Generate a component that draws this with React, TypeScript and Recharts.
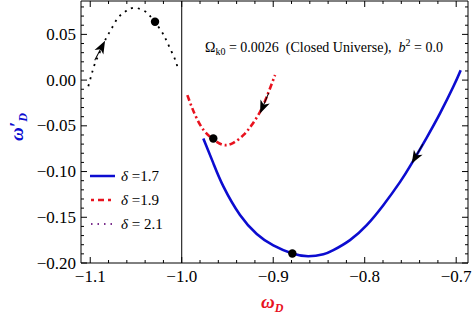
import React from "react";
import {
  ComposedChart,
  Legend,
  Line,
  ReferenceLine,
  Scatter,
  XAxis,
  YAxis,
} from "recharts";

// curves (omega_D, omega'_D)
const blueX = [-0.9764, -0.9655, -0.9545, -0.9363, -0.918, -0.8999, -0.8791, -0.8616, -0.8452, -0.8343, -0.8161, -0.7978, -0.7797, -0.7613, -0.7486, -0.7322, -0.7177, -0.7032, -0.6951];
const blueY = [-0.0638, -0.0908, -0.1162, -0.1475, -0.1682, -0.1808, -0.1896, -0.1926, -0.1905, -0.186, -0.175, -0.1586, -0.1368, -0.1113, -0.0911, -0.0628, -0.0364, -0.0073, 0.0109];

const redX = [-0.9939, -0.9891, -0.9836, -0.9745, -0.9617, -0.9527, -0.9436, -0.9327, -0.9235, -0.9144, -0.9071, -0.898];
const redY = [-0.0164, -0.0292, -0.0419, -0.0566, -0.0675, -0.0711, -0.0686, -0.0602, -0.0492, -0.0347, -0.0183, 0.0055];

const blackX = [-1.1021, -1.0984, -1.0948, -1.0893, -1.0827, -1.0765, -1.0693, -1.062, -1.0573, -1.051, -1.0448, -1.0383, -1.0339, -1.0292, -1.0219, -1.0183, -1.0128, -1.007, -1.0048];
const blackY = [-0.0066, 0.0066, 0.0183, 0.031, 0.0456, 0.0566, 0.0686, 0.0747, 0.0777, 0.0791, 0.0774, 0.0741, 0.0693, 0.0638, 0.0528, 0.0467, 0.0347, 0.0219, 0.0146];

// present-day points
const pointX = [-0.8791, -0.9655, -1.0292];
const pointY = [-0.1896, -0.0638, 0.0638];

// direction arrows (angle in screen degrees)
const arrowX = [-0.7486, -0.9144, -1.0838];
const arrowY = [-0.0911, -0.0364, 0.043];
const arrowAngle = [120, 113, -62];

const legendLabels = ["1.7", "1.9", " 2.1"];

const xMajor = [-1.1, -1.0, -0.9, -0.8, -0.7];
const yMajor = [-0.2, -0.15, -0.1, -0.05, 0.0, 0.05];

const xTicks: number[] = [];
for (let i = 0; i <= 20; i++) xTicks.push(Math.round((-1.1 + i * 0.02) * 1000) / 1000);
const yTicks: number[] = [];
for (let i = 0; i <= 28; i++) yTicks.push(Math.round((-0.2 + i * 0.01) * 1000) / 1000);

const zip = (xs: number[], ys: number[]) => xs.map((x, i) => ({ x, y: ys[i] }));
const blueData = zip(blueX, blueY);
const redData = zip(redX, redY);
const blackData = zip(blackX, blackY);
const pointData = zip(pointX, pointY);
const arrowData = arrowX.map((x, i) => ({ x, y: arrowY[i], a: arrowAngle[i] }));

const SERIF = '"Times New Roman", Times, "Liberation Serif", "DejaVu Serif", serif';
const BLUE = "#0c0cd0";
const RED = "#e8121e";
const PURPLE = "#7a2f8c";

const isMajor = (list: number[], v: number) => list.some((m) => Math.abs(m - v) < 1e-6);
const fmt = (v: number, d: number) => v.toFixed(d).replace("-", "\u2212");

function FrameTick(props: any) {
  const { x, y, payload, side } = props;
  const v = payload.value as number;
  const major = isMajor(side === "bottom" || side === "top" ? xMajor : yMajor, v);
  const len = major ? 6 : 3;
  let line;
  if (side === "bottom") line = <line x1={x} x2={x} y1={y} y2={y - len} stroke="#000" />;
  else if (side === "top") line = <line x1={x} x2={x} y1={y} y2={y + len} stroke="#000" />;
  else if (side === "left") line = <line x1={x} x2={x + len} y1={y} y2={y} stroke="#000" />;
  else line = <line x1={x} x2={x - len} y1={y} y2={y} stroke="#000" />;
  return (
    <g>
      {line}
      {major && side === "bottom" && (
        <text x={x} y={y + 19} textAnchor="middle" style={{ fontFamily: SERIF }} fontSize={17} fill="#000">
          {fmt(v, 1)}
        </text>
      )}
      {major && side === "left" && (
        <text x={x - 5} y={y + 5.5} textAnchor="end" style={{ fontFamily: SERIF }} fontSize={17} fill="#000">
          {fmt(v, 2)}
        </text>
      )}
    </g>
  );
}

function ArrowHead(props: any) {
  const { cx, cy, payload } = props;
  return (
    <g transform={`translate(${cx},${cy}) rotate(${payload.a})`}>
      <line x1={-22} y1={0} x2={-8} y2={0} stroke="#000" strokeWidth={1} />
      <path d="M0,0 L-13,-5 L-9.5,0 L-13,5 Z" fill="#000" />
    </g>
  );
}

function Dot(props: any) {
  const { cx, cy } = props;
  return <circle cx={cx} cy={cy} r={4.2} fill="#000" />;
}

function LegendBox() {
  const samples = [
    <line x1={0} x2={25} y1={5} y2={5} stroke={BLUE} strokeWidth={2.5} />,
    <line x1={1} x2={25} y1={5} y2={5} stroke={RED} strokeWidth={2.5} strokeDasharray="3 4 6 4" />,
    <line x1={1} x2={25} y1={5} y2={5} stroke={PURPLE} strokeWidth={2} strokeDasharray="1.5 5" />,
  ];
  return (
    <div style={{ fontFamily: SERIF, fontSize: 15, lineHeight: "24px" }}>
      {legendLabels.map((l, i) => (
        <div key={i} style={{ display: "flex", alignItems: "center", height: 24 }}>
          <svg width={26} height={10} style={{ marginRight: 5 }}>
            {samples[i]}
          </svg>
          <span>
            <i>{"\u03b4"}</i> ={l}
          </span>
        </div>
      ))}
    </div>
  );
}

export default function App() {
  return (
    <div style={{ position: "absolute", left: 0, top: 0, width: 475, height: 318, background: "#fff" }}>
      <ComposedChart width={475} height={318} margin={{ top: 0, right: 6, bottom: 25, left: 21 }}>
        <XAxis
          xAxisId="b"
          type="number"
          dataKey="x"
          domain={[-1.1101, -0.6871]}
          allowDataOverflow
          ticks={xTicks}
          interval={0}
          height={30}
          tickSize={0}
          tickMargin={0}
          tickLine={false}
          axisLine={{ stroke: "#000" }}
          tick={(p: any) => <FrameTick {...p} side="bottom" />}
        />
        <XAxis
          xAxisId="t"
          orientation="top"
          type="number"
          dataKey="x"
          domain={[-1.1101, -0.6871]}
          allowDataOverflow
          ticks={xTicks}
          interval={0}
          height={1}
          tickSize={0}
          tickMargin={0}
          tickLine={false}
          axisLine={{ stroke: "#000" }}
          tick={(p: any) => <FrameTick {...p} side="top" />}
        />
        <YAxis
          yAxisId="l"
          type="number"
          dataKey="y"
          domain={[-0.2, 0.0865]}
          allowDataOverflow
          ticks={yTicks}
          interval={0}
          width={60}
          tickSize={0}
          tickMargin={0}
          tickLine={false}
          axisLine={{ stroke: "#000" }}
          tick={(p: any) => <FrameTick {...p} side="left" />}
        />
        <YAxis
          yAxisId="r"
          orientation="right"
          type="number"
          dataKey="y"
          domain={[-0.2, 0.0865]}
          allowDataOverflow
          ticks={yTicks}
          interval={0}
          width={1}
          tickSize={0}
          tickMargin={0}
          tickLine={false}
          axisLine={{ stroke: "#000" }}
          tick={(p: any) => <FrameTick {...p} side="right" />}
        />
        <ReferenceLine xAxisId="b" yAxisId="l" x={-1.0} stroke="#000" strokeWidth={1} />
        <Line
          xAxisId="b"
          yAxisId="l"
          data={blueData}
          dataKey="y"
          type="natural"
          stroke={BLUE}
          strokeWidth={2.6}
          dot={false}
          isAnimationActive={false}
        />
        <Line
          xAxisId="b"
          yAxisId="l"
          data={redData}
          dataKey="y"
          type="natural"
          stroke={RED}
          strokeWidth={2.6}
          strokeDasharray="6 3 2 3"
          dot={false}
          isAnimationActive={false}
        />
        <Line
          xAxisId="b"
          yAxisId="l"
          data={blackData}
          dataKey="y"
          type="natural"
          stroke="#000"
          strokeWidth={1.8}
          strokeDasharray="2 5"
          dot={false}
          isAnimationActive={false}
        />
        <Scatter xAxisId="b" yAxisId="l" data={pointData} dataKey="y" shape={<Dot />} isAnimationActive={false} />
        <Scatter xAxisId="b" yAxisId="l" data={arrowData} dataKey="y" shape={<ArrowHead />} isAnimationActive={false} />
        <Legend
          layout="vertical"
          align="center"
          verticalAlign="middle"
          content={() => <LegendBox />}
          wrapperStyle={{ left: 90, top: 164, width: 100, height: 75 }}
        />
      </ComposedChart>
      <div
        style={{ position: "absolute", left: 205, top: 35, fontFamily: SERIF, fontSize: 14, whiteSpace: "pre", lineHeight: "16px" }}
      >
        {"\u03a9"}
        <sub style={{ fontSize: 10, verticalAlign: "-3px" }}>k0</sub>
        {" = 0.0026  (Closed Universe),  "}
        <i>b</i>
        <sup style={{ fontSize: 10, verticalAlign: "6px" }}>2</sup>
        {" = 0.0"}
      </div>
      <div
        style={{
          position: "absolute",
          left: 261,
          top: 292,
          fontFamily: SERIF,
          fontSize: 19,
          fontWeight: "bold",
          fontStyle: "italic",
          color: RED,
          whiteSpace: "pre",
          lineHeight: "20px",
        }}
      >
        {"\u03c9"}
        <sub style={{ fontSize: 12, verticalAlign: "-4px" }}>D</sub>
      </div>
      <div
        style={{
          position: "absolute",
          left: 20,
          top: 127,
          transform: "translate(-50%, -50%) rotate(-90deg)",
          fontFamily: SERIF,
          fontSize: 19,
          fontWeight: "bold",
          fontStyle: "italic",
          color: BLUE,
          whiteSpace: "pre",
          lineHeight: "20px",
        }}
      >
        {"\u03c9\u2032"}
        <sub style={{ fontSize: 12, verticalAlign: "-4px" }}>D</sub>
      </div>
    </div>
  );
}
